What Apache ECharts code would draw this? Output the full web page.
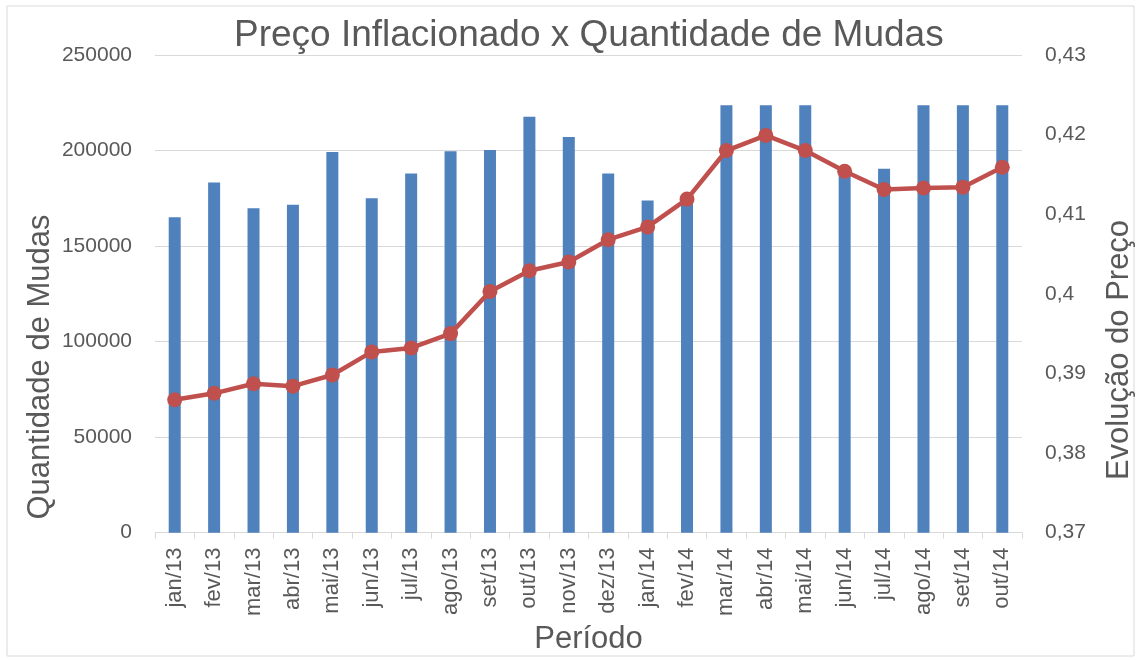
<!DOCTYPE html>
<html>
<head>
<meta charset="utf-8">
<script src="https://cdn.jsdelivr.net/npm/echarts@6/dist/echarts.min.js"></script>
<style>
html,body{margin:0;padding:0;background:#fff;}
#c{width:1141px;height:660px;}
</style>
</head>
<body>
<div id="c"></div>
<script>
const categories = ['jan/13','fev/13','mar/13','abr/13','mai/13','jun/13','jul/13','ago/13','set/13','out/13','nov/13','dez/13','jan/14','fev/14','mar/14','abr/14','mai/14','jun/14','jul/14','ago/14','set/14','out/14'];
const quantidade = [165100,183300,169800,171600,199200,175000,188000,199600,200300,217700,207100,188000,173800,175000,223700,223700,223700,189000,190400,223700,223700,223700];
const preco = [0.3867,0.3875,0.3887,0.3884,0.3898,0.3927,0.3932,0.3950,0.4003,0.4029,0.4040,0.4068,0.4084,0.4119,0.4180,0.4199,0.4180,0.4154,0.4131,0.4133,0.4134,0.4159];
const leftTicks = [0,50000,100000,150000,200000,250000];
const rightTicks = [0.37,0.38,0.39,0.40,0.41,0.42,0.43];

const FONT = '"Liberation Sans", Arial, sans-serif';
const TXT = '#595959';
const chart = echarts.init(document.getElementById('c'), null, {renderer:'canvas'});
chart.setOption({
  animation:false,
  backgroundColor:'#fff',
  title:{
    text:'Preço Inflacionado x Quantidade de Mudas',
    left:229, top:12,
    textStyle:{fontFamily:FONT,fontSize:37,fontWeight:'normal',color:TXT}
  },
  graphic:[
    {type:'rect',shape:{x:7,y:6,width:1127,height:650},style:{fill:'none',stroke:'#d9d9d9',lineWidth:1},silent:true},
    {type:'text',x:40,y:367,rotation:Math.PI/2,style:{text:'Quantidade de Mudas',fontFamily:FONT,fontSize:31,fill:TXT,align:'center',verticalAlign:'middle'},silent:true},
    {type:'text',x:1119,y:350,rotation:Math.PI/2,style:{text:'Evolução do Preço',fontFamily:FONT,fontSize:31,fill:TXT,align:'center',verticalAlign:'middle'},silent:true}
  ],
  grid:{left:155,right:119,top:55,bottom:122,containLabel:false},
  xAxis:{
    type:'category', data:categories, boundaryGap:true,
    name:'Período', nameLocation:'middle', nameGap:89,
    nameTextStyle:{fontFamily:FONT,fontSize:31,color:TXT},
    axisLine:{lineStyle:{color:'#d9d9d9',width:1}},
    axisTick:{show:true,length:6,lineStyle:{color:'#d9d9d9'},alignWithLabel:false},
    axisLabel:{rotate:90,fontFamily:FONT,fontSize:22,color:TXT,margin:15,interval:0}
  },
  yAxis:[{
    type:'value', min:leftTicks[0], max:leftTicks[leftTicks.length-1], interval:50000,
    axisLine:{show:false}, axisTick:{show:false},
    axisLabel:{fontFamily:FONT,fontSize:21,color:TXT,margin:23,formatter:function(v){return String(v);}},
    splitLine:{lineStyle:{color:'#d9d9d9',width:1}}
  },{
    type:'value', min:0.37, max:0.43, interval:0.01,
    axisLine:{show:false}, axisTick:{show:false},
    axisLabel:{fontFamily:FONT,fontSize:21,color:TXT,margin:23,
      formatter:function(v){return String(Math.round(v*100)/100).replace('.',',');}},
    splitLine:{show:false}
  }],
  series:[{
    type:'bar', data:quantidade, yAxisIndex:0, barWidth:12,
    itemStyle:{color:'#4F81BD'}
  },{
    type:'line', data:preco, yAxisIndex:1,
    symbol:'circle', symbolSize:15,
    lineStyle:{color:'#C0504D',width:4.5},
    itemStyle:{color:'#C0504D'}
  }]
});
</script>
</body>
</html>
